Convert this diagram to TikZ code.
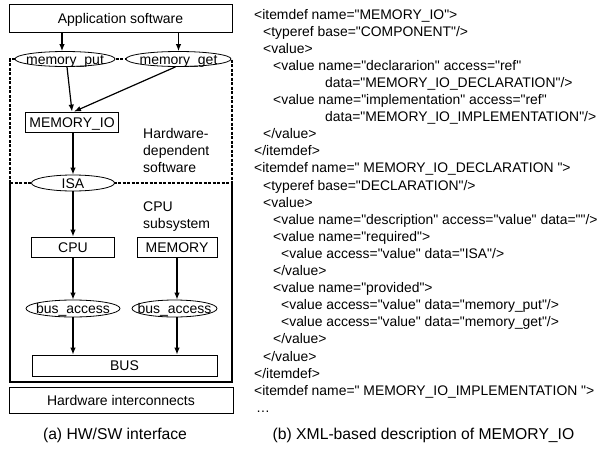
\documentclass[tikz,border=0pt]{standalone}
\usepackage{fontspec}
\setmainfont{Liberation Sans}[Ligatures=TeXOff]
\usetikzlibrary{arrows.meta,shapes.geometric,calc}
\newcommand\ct[1]{\smash{\raisebox{-5pt}{\makebox[0pt]{#1}}}}
\begin{document}
\begin{tikzpicture}[x=1pt,y=-1pt,
  font=\fontsize{14}{17}\selectfont,
  box/.style={draw, line width=0.8pt, inner sep=0pt, fill=white},
  oval/.style={draw, ellipse, fill=white, line width=0.8pt, inner sep=0pt},
  arr/.style={line width=1.2pt, -{Latex[length=7pt,width=5.5pt]}},
  frame/.style={line width=1.3pt},
  dsh/.style={line width=1.3pt, dash pattern=on 3pt off 1.5pt},
  xml/.style={anchor=base west, inner sep=0pt, font=\fontsize{13.9}{17}\selectfont},
  lbl/.style={anchor=north west, align=left, inner sep=0pt, font=\fontsize{14}{17}\selectfont},
  captxt/.style={anchor=base, inner sep=0pt, font=\fontsize{15.7}{18}\selectfont}]
\useasboundingbox (0,0) rectangle (600,450);

% frame of the hardware-dependent software / CPU subsystem
\coordinate (f1) at (10,59);
\coordinate (f2) at (232,59);
\coordinate (f3) at (10,183);
\coordinate (f4) at (232,183);
\coordinate (f5) at (10,382);
\coordinate (f6) at (232,382);
\draw[dsh] (f3) -- (f1) -- (f2) -- (f4);
\draw[dsh] (f3) -- (f4);
\draw[frame] (f3) -- (f5) -- (f6) -- (f4);

% nodes
\node[box, minimum width=223, minimum height=28] (app) at (120.5,18) {\ct{Application software}};
\node[oval, minimum width=100, minimum height=15] (put) at (65,59) {\ct{memory\_put}};
\node[oval, minimum width=105, minimum height=15] (get) at (178.5,59) {\ct{memory\_get}};
\node[box, minimum width=93, minimum height=20] (mio) at (72,122) {\ct{MEMORY\_IO}};
\node[oval, minimum width=83, minimum height=16] (isa) at (73,183) {\ct{ISA}};
\node[box, minimum width=83, minimum height=20] (cpu) at (73,247) {\ct{CPU}};
\node[box, minimum width=80, minimum height=20] (mem) at (177,247) {\ct{MEMORY}};
\node[oval, minimum width=94, minimum height=17] (ba1) at (73,308.5) {\ct{bus\_access}};
\node[oval, minimum width=85, minimum height=17] (ba2) at (174.5,308.5) {\ct{bus\_access}};
\node[box, minimum width=185, minimum height=21] (bus) at (124.5,365.5) {\ct{BUS}};
\node[box, minimum width=224, minimum height=26] (hwi) at (121,400) {\ct{Hardware interconnects}};

\node[lbl] (hds) at (143,128) {Hardware-\\dependent\\software};
\node[lbl] (cps) at (143,202) {CPU\\subsystem};

% connectors
\coordinate (pin) at ([xshift=-3pt]put.north);
\draw[arr] (app.south -| pin) -- (pin);
\draw[arr] (app.south -| get.north) -- (get.north);
\draw[arr] ([xshift=2pt]put.south) -- (mio.north);
\draw[arr] ([xshift=-3pt]get.south) -- ([xshift=2pt]mio.north);
\draw[arr] (mio.south -| isa.north) -- (isa.north);
\draw[arr] (isa.south) -- (cpu.north);
\draw[arr] (cpu.south) -- (ba1.north);
\draw[arr] (mem.south) -- (mem.south |- ba2.north);
\draw[arr] (ba1.south) -- (ba1.south |- bus.north);
\coordinate (b2) at (mem.south |- ba2.south);
\draw[arr] (b2) -- (b2 |- bus.north);

% XML description
\node[xml] (x1)  at (254,19)    {<itemdef name="MEMORY\_IO">};
\node[xml] (x2)  at (263,36.1)  {<typeref base="COMPONENT"/>};
\node[xml] (x3)  at (263,53.2)  {<value>};
\node[xml] (x4)  at (273,70.3)  {<value name="declararion" access="ref"};
\node[xml] (x5)  at (325,87.4)  {data="MEMORY\_IO\_DECLARATION"/>};
\node[xml] (x6)  at (273,104.5) {<value name="implementation" access="ref"};
\node[xml] (x7)  at (325,121.6) {data="MEMORY\_IO\_IMPLEMENTATION"/>};
\node[xml] (x8)  at (263,138.7) {</value>};
\node[xml] (x9)  at (254,155.8) {</itemdef>};
\node[xml] (x10) at (254,172.9) {<itemdef name=" MEMORY\_IO\_DECLARATION ">};
\node[xml] (x11) at (263,190)   {<typeref base="DECLARATION"/>};
\node[xml] (x12) at (263,207.1) {<value>};
\node[xml] (x13) at (273,224.2) {<value name="description" access="value" data=""/>};
\node[xml] (x14) at (273,241.3) {<value name="required">};
\node[xml] (x15) at (281,258.4) {<value access="value" data="ISA"/>};
\node[xml] (x16) at (273,275.5) {</value>};
\node[xml] (x17) at (273,292.6) {<value name="provided">};
\node[xml] (x18) at (281,309.7) {<value access="value" data="memory\_put"/>};
\node[xml] (x19) at (281,326.8) {<value access="value" data="memory\_get"/>};
\node[xml] (x20) at (273,343.9) {</value>};
\node[xml] (x21) at (263,361)   {</value>};
\node[xml] (x22) at (254,378.1) {</itemdef>};
\node[xml] (x23) at (254,395.2) {<itemdef name=" MEMORY\_IO\_IMPLEMENTATION ">};
\node[xml] (x24) at (256,412.3) {…};

% captions
\node[captxt] (capa) at (115,439.6) {(a) HW/SW interface};
\node[captxt] (capb) at (423.5,439.6) {(b) XML-based description of MEMORY\_IO};
\end{tikzpicture}
\end{document}
